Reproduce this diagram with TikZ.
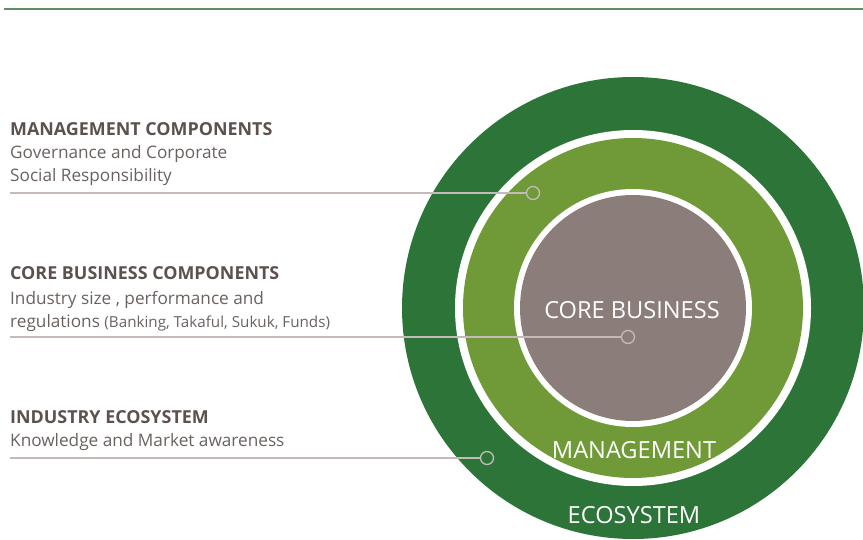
\documentclass[tikz,border=0pt]{standalone}
\usepackage{fontspec}
\setmainfont{Open Sans}
\usetikzlibrary{positioning}
\definecolor{ecogreen}{HTML}{2C7438}
\definecolor{mgmtgreen}{HTML}{709A38}
\definecolor{coregray}{HTML}{8B7E7A}
\definecolor{headtext}{HTML}{5C514E}
\definecolor{bodytext}{HTML}{6A625F}
\definecolor{leader}{HTML}{C4BBB7}
\definecolor{rulegreen}{HTML}{5E8E62}

\begin{document}
\begin{tikzpicture}[
  x=1pt,y=-1pt,
  disc/.style={circle,inner sep=0pt,minimum size=#1},
  head/.style={anchor=base west,inner sep=0pt,text=headtext,font=\fontsize{17.9}{20}\selectfont\bfseries},
  body/.style={anchor=base west,inner sep=0pt,text=bodytext,align=left,font=\fontsize{17.2}{23}\selectfont},
  biglbl/.style={text=white,inner sep=0pt,font=\fontsize{23.6}{25}\selectfont},
  hotspot/.style={circle,draw=leader,line width=1.3pt,minimum size=13pt,inner sep=0pt},
  leaderline/.style={draw=leader,line width=1.2pt},
]
\useasboundingbox (0,0) rectangle (863,540);

% top rule
\coordinate (ruleL) at (4,9);
\coordinate (ruleR) at (863,9);
\draw[rulegreen,line width=1.6pt] (ruleL) -- (ruleR);

% the three rings
\node[disc=462pt,fill=ecogreen]  (eco)      at (633,308) {};
\node[disc=356pt,fill=white]     (ecogap)   at (eco.center) {};
\node[disc=340pt,fill=mgmtgreen] (mgmt)     at (eco.center) {};
\node[disc=238pt,fill=white]     (mgmtgap)  at (eco.center) {};
\node[disc=226pt,fill=coregray]  (core)     at (eco.center) {};

\node[biglbl] (corelbl) at (632,310) {CORE BUSINESS};
\node[biglbl] (mgmtlbl) at (634,450) {MANAGEMENT};
\node[biglbl] (ecolbl)  at (634,515) {ECOSYSTEM};

% left hand captions (body nodes sit on their last baseline)
\node[head] (mgmthead) at (10,136) {MANAGEMENT COMPONENTS};
\node[body] (mgmtbody) at (10,182) {Governance and Corporate\\Social Responsibility};

\node[head] (corehead) at (10,280) {CORE BUSINESS COMPONENTS};
\node[body] (corebody) at (10,327) {Industry size , performance and\\regulations {\fontsize{15.2}{23}\selectfont(Banking, Takaful, Sukuk, Funds)}};

\node[head] (ecohead) at (10,423) {INDUSTRY ECOSYSTEM};
\node[body] (ecobody) at (10,446) {Knowledge and Market awareness};

% leaders to the rings
\node[hotspot] (mgmtdot) at (533,193) {};
\node[hotspot] (coredot) at (628,337) {};
\node[hotspot] (ecodot)  at (487,458) {};

\coordinate (mgmtstart) at (10,193);
\coordinate (corestart) at (10,337);
\coordinate (ecostart)  at (10,458);
\draw[leaderline] (mgmtstart) -- (mgmtdot);
\draw[leaderline] (corestart) -- (coredot);
\draw[leaderline] (ecostart)  -- (ecodot);
\end{tikzpicture}
\end{document}
